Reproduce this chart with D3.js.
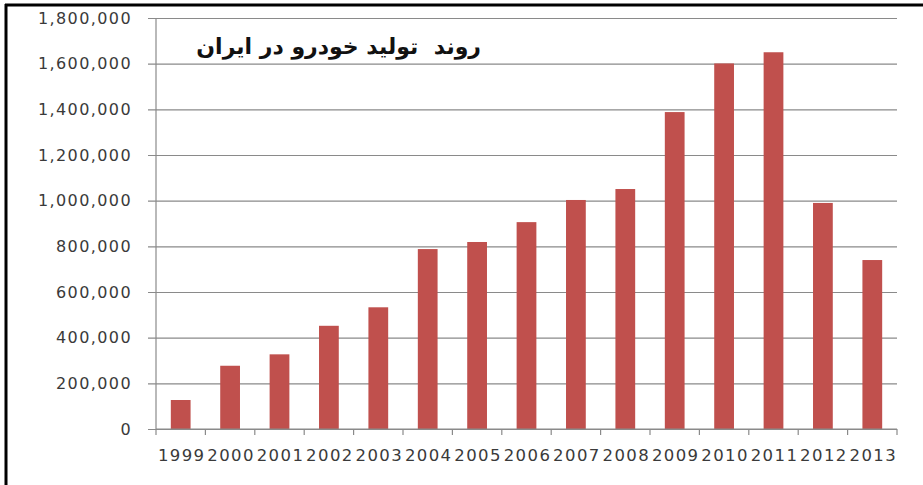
<!DOCTYPE html>
<html>
<head>
<meta charset="utf-8">
<script src="https://cdn.jsdelivr.net/npm/d3@7/dist/d3.min.js"></script>
<style>
  html, body { margin: 0; padding: 0; background: #fff; }
  svg { display: block; }
</style>
</head>
<body>
<svg id="chart" width="923" height="485"></svg>
<script>
// Annual car production in Iran
const years = ["1999","2000","2001","2002","2003","2004","2005","2006","2007","2008","2009","2010","2011","2012","2013"];
const production = [127000, 277000, 327000, 452000, 533000, 788000, 819000, 906000, 1003000, 1051000, 1388000, 1601000, 1650000, 990000, 740000];
const yTicks = [0, 200000, 400000, 600000, 800000, 1000000, 1200000, 1400000, 1600000, 1800000];
const title = "روند  تولید خودرو در ایران";

const W = 923, H = 485;
const margin = { left: 156, right: 26, top: 18, bottom: 56 };
const svg = d3.select("#chart");

const x = d3.scaleBand()
  .domain(years)
  .range([margin.left, W - margin.right])
  .paddingInner(0.6)
  .paddingOuter(0.3);

const y = d3.scaleLinear()
  .domain([0, 1800000])
  .range([H - margin.bottom, margin.top]);

const fmt = d3.format(",");
const labelFont = "DejaVu Sans, Verdana, sans-serif";

// frame lines at top and left
svg.append("line").attr("x1", 5).attr("x2", W).attr("y1", 5).attr("y2", 5)
  .attr("stroke", "#000").attr("stroke-width", 3);
svg.append("line").attr("x1", 6).attr("x2", 6).attr("y1", 4).attr("y2", H)
  .attr("stroke", "#000").attr("stroke-width", 3);

// horizontal gridlines + y tick labels
const yAxis = d3.axisLeft(y)
  .tickValues(yTicks)
  .tickFormat(fmt)
  .tickSize(-(W - margin.right - margin.left))
  .tickPadding(24);

const gy = svg.append("g")
  .attr("transform", `translate(${margin.left},0)`)
  .call(yAxis);
gy.select(".domain").remove();
gy.selectAll(".tick line")
  .attr("x1", -8)
  .attr("stroke", "#8a8a8a")
  .attr("stroke-width", 1.2);
gy.selectAll(".tick text")
  .attr("fill", "#3a3a3a")
  .style("font-family", labelFont)
  .style("font-size", "16px")
  .style("letter-spacing", "1.4px");

// y axis line
svg.append("line")
  .attr("x1", margin.left).attr("x2", margin.left)
  .attr("y1", y(1800000)).attr("y2", y(0))
  .attr("stroke", "#8a8a8a").attr("stroke-width", 1.2);

// bars
svg.append("g").selectAll("rect")
  .data(years.map((yr, i) => ({ yr, v: production[i] })))
  .join("rect")
  .attr("x", d => x(d.yr))
  .attr("y", d => y(d.v))
  .attr("width", x.bandwidth())
  .attr("height", d => y(0) - y(d.v))
  .attr("fill", "#c0504d");

// x axis baseline with ticks between categories
const plotW = W - margin.right - margin.left;
const gx = svg.append("g");
gx.append("line")
  .attr("x1", margin.left).attr("x2", W - margin.right)
  .attr("y1", y(0)).attr("y2", y(0))
  .attr("stroke", "#8a8a8a").attr("stroke-width", 1.2);
gx.selectAll("line.tk")
  .data(d3.range(years.length + 1))
  .join("line")
  .attr("class", "tk")
  .attr("x1", i => margin.left + i * plotW / years.length)
  .attr("x2", i => margin.left + i * plotW / years.length)
  .attr("y1", y(0)).attr("y2", y(0) + 6)
  .attr("stroke", "#8a8a8a").attr("stroke-width", 1.2);
gx.selectAll("text")
  .data(years)
  .join("text")
  .attr("x", d => x(d) + x.bandwidth() / 2 + 1)
  .attr("y", y(0) + 32)
  .attr("text-anchor", "middle")
  .attr("fill", "#3a3a3a")
  .style("font-family", labelFont)
  .style("font-size", "16.5px")
  .style("letter-spacing", "1.4px")
  .text(d => d);

// title (keeps its double space)
svg.append("text")
  .attr("x", 481)
  .attr("y", 54)
  .attr("text-anchor", "end")
  .attr("fill", "#111")
  .style("white-space", "pre")
  .style("font-family", "DejaVu Sans, sans-serif")
  .style("font-weight", "bold")
  .style("font-size", "22px")
  .text(title);
</script>
</body>
</html>
